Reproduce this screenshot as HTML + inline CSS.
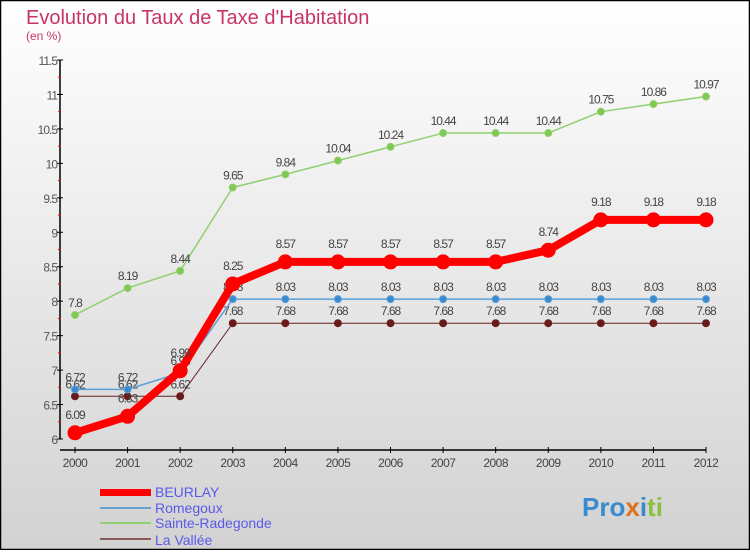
<!DOCTYPE html>
<html><head><meta charset="utf-8">
<style>
html,body{margin:0;padding:0;}
body{width:750px;height:550px;overflow:hidden;font-family:"Liberation Sans",sans-serif;}
</style></head>
<body>
<svg id="chart" width="750" height="550" xmlns="http://www.w3.org/2000/svg">
<defs>
<linearGradient id="bg" x1="0" y1="0" x2="0" y2="1">
<stop offset="0" stop-color="#ffffff"/><stop offset="1" stop-color="#d2d2d2"/>
</linearGradient>
</defs>
<rect x="0.5" y="0.5" width="749" height="549" fill="url(#bg)" stroke="#000" stroke-width="1.5"/>
<text x="26" y="24" font-size="20" fill="#c8336a">Evolution du Taux de Taxe d'Habitation</text>
<text x="26" y="40" font-size="12" fill="#c8336a">(en %)</text>
<g id="axes"></g>
<g id="series"></g>
<g id="legend">
<rect x="100" y="489" width="51" height="7" fill="#f00"/>
<text x="155" y="497" font-size="14" fill="#5a5ae8">BEURLAY</text>
<rect x="100" y="507" width="51" height="2" fill="#6aa0d0"/>
<text x="155" y="513" font-size="14" fill="#5a5ae8">Romegoux</text>
<rect x="100" y="522" width="51" height="2" fill="#90d070"/>
<text x="155" y="528" font-size="14" fill="#5a5ae8">Sainte-Radegonde</text>
<rect x="100" y="538" width="51" height="2" fill="#8a5a5a"/>
<text x="155" y="545" font-size="14" fill="#5a5ae8">La Vallée</text>
</g>
<text x="582" y="516" font-size="26" font-weight="bold" fill="#3a8ad0">Pro<tspan fill="#e07020">x</tspan><tspan fill="#3a8ad0">i</tspan><tspan fill="#8ac040">ti</tspan></text>
</svg>
<script>
const years = [2000,2001,2002,2003,2004,2005,2006,2007,2008,2009,2010,2011,2012];
const beurlay = [6.09,6.33,6.99,8.25,8.57,8.57,8.57,8.57,8.57,8.74,9.18,9.18,9.18];
const romegoux = [6.72,6.72,6.96,8.03,8.03,8.03,8.03,8.03,8.03,8.03,8.03,8.03,8.03];
const sainteRadegonde = [7.8,8.19,8.44,9.65,9.84,10.04,10.24,10.44,10.44,10.44,10.75,10.86,10.97];
const laVallee = [6.62,6.62,6.62,7.68,7.68,7.68,7.68,7.68,7.68,7.68,7.68,7.68,7.68];
const yTicks = [6,6.5,7,7.5,8,8.5,9,9.5,10,10.5,11,11.5];

const NS="http://www.w3.org/2000/svg";
const X0=75,X1=706,YMIN=6,YMAX=11.5,PY0=439,PY1=60;
function xs(i){return X0+(X1-X0)*i/(years.length-1);}
function ys(v){return PY0-(v-YMIN)/(YMAX-YMIN)*(PY0-PY1);}
function mk(tag,attrs,parent){const e=document.createElementNS(NS,tag);for(const k in attrs)e.setAttribute(k,attrs[k]);parent.appendChild(e);return e;}
const axes=document.getElementById('axes'), ser=document.getElementById('series');

let a=mk('line',{x1:60,y1:60,x2:60,y2:439,stroke:'#000','stroke-width':1.5},axes);


a=mk('line',{x1:60,y1:450,x2:706,y2:450,stroke:'#000','stroke-width':1.5},axes);


yTicks.forEach((t,i)=>{
  const y=ys(t);
  let l=mk('line',{x1:57,y1:y,x2:63,y2:y,stroke:'#000'},axes);
  
  
  let tx=mk('text',{x:57,y:y+5,'font-size':12,fill:'#555','text-anchor':'end','letter-spacing':'-1'},axes);
  tx.textContent=String(t);
  
  
  if(i<yTicks.length-1){
    let m=mk('line',{x1:58,y1:ys(t+0.25),x2:61,y2:ys(t+0.25),stroke:'#f00'},axes);
    
    
  }
});
years.forEach((yr,i)=>{
  const x=xs(i);
  let l=mk('line',{x1:x,y1:447,x2:x,y2:453,stroke:'#000'},axes);
  
  
  let tx=mk('text',{x:x,y:467,'font-size':12,fill:'#444','text-anchor':'middle','letter-spacing':'-0.5'},axes);
  tx.textContent=String(yr);
  
  
});
function draw(vals,name,color,lw,r,fill,labelOff){
  const g=mk('g',{},ser);
  
  
  const p=mk('polyline',{points:vals.map((v,i)=>xs(i)+','+ys(v)).join(' '),fill:'none',stroke:color,'stroke-width':lw,'stroke-linejoin':'round'},g);
  
  
  vals.forEach((v,i)=>{
    const c=mk('circle',{cx:xs(i),cy:ys(v),r:r,fill:fill,stroke:color,'stroke-width':1},g);
    
    
    const t=mk('text',{x:xs(i),y:ys(v)-labelOff,'font-size':12,fill:'#444','text-anchor':'middle','letter-spacing':'-1'},g);
    t.textContent=String(v);
    
    
  });
}
draw(laVallee,'la-vallee','#6a2020',1,3.5,'#6a1a1a',8);
draw(romegoux,'romegoux','#5aa0d8',1.5,3.5,'#3a8ad0',8);
draw(sainteRadegonde,'sainte-radegonde','#90d070',1.5,3.5,'#80c850',8);
draw(beurlay,'beurlay','#f00',8,7,'#f00',14);
</script>
</body></html>
